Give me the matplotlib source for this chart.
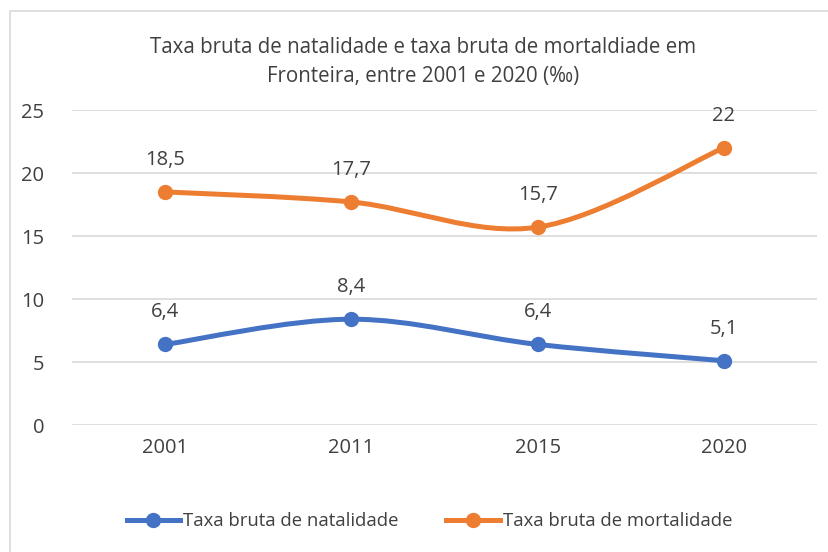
import numpy as np
import matplotlib.pyplot as plt
from matplotlib.path import Path
from matplotlib.patches import PathPatch, Rectangle
from matplotlib.lines import Line2D

# Dados do grafico
anos = ['2001', '2011', '2015', '2020']
natalidade = [6.4, 8.4, 6.4, 5.1]
mortalidade = [18.5, 17.7, 15.7, 22.0]
rotulos_nat = ['6,4', '8,4', '6,4', '5,1']
rotulos_mort = ['18,5', '17,7', '15,7', '22']
y_ticks = [0, 5, 10, 15, 20, 25]

azul = '#4472C4'
laranja = '#ED7D31'
cor_texto = '#404040'

plt.rcParams['font.family'] = ['Open Sans', 'DejaVu Sans']


# Curva suavizada (estilo Excel) com Bezier a partir dos pontos
def curva_suave(ax, xs, ys, cor):
    pts = np.column_stack([xs, ys]).astype(float)
    n = len(pts)
    verts = [pts[0]]
    codes = [Path.MOVETO]
    for i in range(n - 1):
        p0 = pts[i - 1] if i > 0 else pts[i]
        p1 = pts[i]
        p2 = pts[i + 1]
        p3 = pts[i + 2] if i + 2 < n else pts[i + 1]
        c1 = p1 + (p2 - p0) / 6
        c2 = p2 - (p3 - p1) / 6
        verts += [c1, c2, p2]
        codes += [Path.CURVE4] * 3
    patch = PathPatch(Path(verts, codes), facecolor='none', edgecolor=cor,
                      lw=3.6, capstyle='round', zorder=3)
    ax.add_patch(patch)
    ax.plot(xs, ys, 'o', color=cor, markersize=10, zorder=4)


fig = plt.figure(figsize=(8.29, 5.52), dpi=100)
ax = fig.add_axes([0.0869, 0.23, 0.8986, 0.5707])

x = np.arange(len(anos))
curva_suave(ax, x, natalidade, azul)
curva_suave(ax, x, mortalidade, laranja)

for xi, v, r in zip(x, natalidade, rotulos_nat):
    ax.annotate(r, (xi, v), xytext=(0, 16), textcoords='offset points',
                ha='center', va='bottom', fontsize=14.5, color=cor_texto)
for xi, v, r in zip(x, mortalidade, rotulos_mort):
    ax.annotate(r, (xi, v), xytext=(0, 16), textcoords='offset points',
                ha='center', va='bottom', fontsize=14.5, color=cor_texto)

ax.set_xlim(-0.5, len(anos) - 0.5)
ax.set_ylim(0, 25)
ax.set_yticks(y_ticks)
ax.set_xticks(x)
ax.set_xticklabels(anos)
ax.tick_params(length=0, labelsize=14.5, labelcolor=cor_texto)
ax.tick_params(axis='y', pad=20)
ax.tick_params(axis='x', pad=9)
ax.grid(axis='y', color='#D9D9D9', lw=1.2)
ax.set_axisbelow(True)
for s in ax.spines.values():
    s.set_visible(False)

fig.text(0.51, 0.888, 'Taxa bruta de natalidade e taxa bruta de mortaldiade em\nFronteira, entre 2001 e 2020 (‰)',
         ha='center', va='center', fontsize=14.8, color=cor_texto, linespacing=1.5)

handles = [Line2D([], [], color=azul, lw=3.6, marker='o', markersize=10),
           Line2D([], [], color=laranja, lw=3.6, marker='o', markersize=10)]
fig.legend(handles, ['Taxa bruta de natalidade', 'Taxa bruta de mortalidade'],
           loc='center', bbox_to_anchor=(0.518, 0.056), ncol=2, frameon=False,
           fontsize=13.3, labelcolor=cor_texto, handlelength=2.9, handletextpad=0.15,
           columnspacing=2.6)

# moldura do grafico
fig.patches.append(Rectangle((10 / 829, -0.01), 0.995, 1 - 11 / 552 + 0.01,
                             transform=fig.transFigure, fill=False,
                             edgecolor='#D9D9D9', lw=1.2))

fig.savefig('out.png', dpi=100)
